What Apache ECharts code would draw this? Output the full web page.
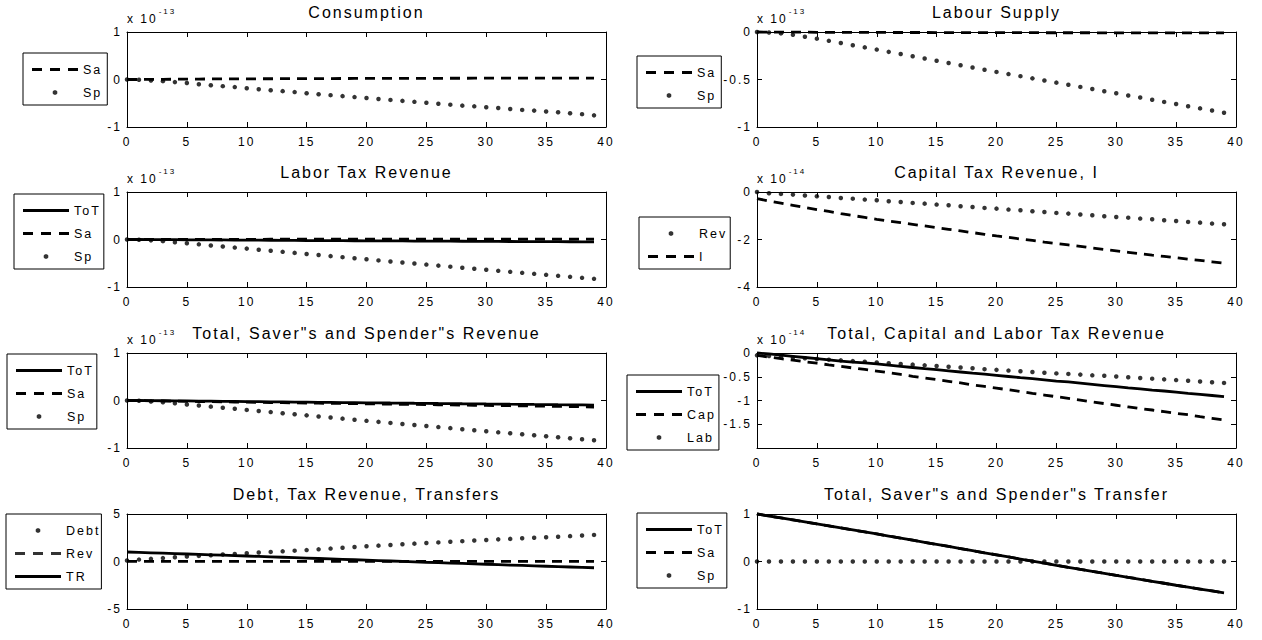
<!DOCTYPE html>
<html>
<head>
<meta charset="utf-8">
<script src="https://cdn.jsdelivr.net/npm/echarts@6.0.0/dist/echarts.min.js"></script>
<style>
  html, body { margin: 0; padding: 0; background: #fff; }
  #chart { width: 1262px; height: 640px; }
  /* MATLAB-like spaced glyphs */
  #chart text { letter-spacing: 2px; }
</style>
</head>
<body>
<div id="chart"></div>
<script>
  // periods 0..39 on the x axis
  const periods = Array.from({ length: 40 }, (_, i) => i)
  const xTicks = { min: 0, max: 40, step: 5 }

  // Consumption (x 1e-13)
  const consumptionSa = [0, 0, 0.002, 0.004, 0.006, 0.008, 0.01, 0.011, 0.012, 0.013, 0.014, 0.015, 0.016, 0.017, 0.018, 0.019, 0.02, 0.02, 0.021, 0.022, 0.022, 0.023, 0.023, 0.024, 0.024, 0.025, 0.025, 0.026, 0.026, 0.027, 0.027, 0.028, 0.028, 0.029, 0.029, 0.03, 0.03, 0.03, 0.031, 0.031]
  const consumptionSp = [0, -0.005, -0.02, -0.035, -0.055, -0.075, -0.1, -0.12, -0.14, -0.16, -0.185, -0.205, -0.225, -0.245, -0.265, -0.29, -0.31, -0.33, -0.35, -0.37, -0.39, -0.41, -0.43, -0.45, -0.47, -0.49, -0.51, -0.53, -0.55, -0.565, -0.585, -0.6, -0.62, -0.64, -0.655, -0.675, -0.69, -0.71, -0.73, -0.755]

  // Labour Supply (x 1e-13)
  const labourSa = [0, -0.001, -0.001, -0.002, -0.002, -0.003, -0.003, -0.003, -0.004, -0.004, -0.004, -0.005, -0.005, -0.005, -0.005, -0.006, -0.006, -0.006, -0.006, -0.007, -0.007, -0.007, -0.007, -0.007, -0.008, -0.008, -0.008, -0.008, -0.008, -0.009, -0.009, -0.009, -0.009, -0.009, -0.01, -0.01, -0.01, -0.01, -0.01, -0.01]
  const labourSp = [0, -0.005, -0.015, -0.03, -0.05, -0.07, -0.093, -0.116, -0.139, -0.162, -0.185, -0.209, -0.232, -0.256, -0.279, -0.303, -0.326, -0.35, -0.373, -0.397, -0.42, -0.443, -0.465, -0.488, -0.51, -0.533, -0.555, -0.578, -0.6, -0.623, -0.645, -0.668, -0.69, -0.713, -0.736, -0.758, -0.781, -0.804, -0.827, -0.85]

  // Labor Tax Revenue (x 1e-13)
  const labTaxToT = [0, 0, -0.001, -0.003, -0.004, -0.006, -0.007, -0.009, -0.01, -0.012, -0.013, -0.015, -0.016, -0.018, -0.019, -0.021, -0.022, -0.024, -0.025, -0.026, -0.028, -0.029, -0.03, -0.031, -0.033, -0.034, -0.035, -0.036, -0.037, -0.039, -0.04, -0.041, -0.042, -0.043, -0.044, -0.045, -0.046, -0.047, -0.048, -0.05]
  const labTaxSa = [0, 0.001, 0.001, 0.002, 0.002, 0.002, 0.003, 0.003, 0.003, 0.004, 0.004, 0.004, 0.005, 0.005, 0.005, 0.005, 0.006, 0.006, 0.006, 0.006, 0.007, 0.007, 0.007, 0.007, 0.007, 0.008, 0.008, 0.008, 0.008, 0.008, 0.009, 0.009, 0.009, 0.009, 0.009, 0.01, 0.01, 0.01, 0.01, 0.01]
  const labTaxSp = [0, -0.006, -0.018, -0.035, -0.057, -0.08, -0.102, -0.125, -0.147, -0.17, -0.192, -0.215, -0.237, -0.26, -0.282, -0.305, -0.327, -0.35, -0.372, -0.395, -0.417, -0.44, -0.462, -0.484, -0.506, -0.528, -0.55, -0.572, -0.594, -0.616, -0.638, -0.66, -0.681, -0.702, -0.723, -0.744, -0.765, -0.786, -0.807, -0.828]

  // Capital Tax Revenue, I (x 1e-14)
  const capitalRev = [0, -0.05, -0.08, -0.11, -0.15, -0.18, -0.21, -0.25, -0.28, -0.32, -0.35, -0.39, -0.42, -0.46, -0.49, -0.53, -0.56, -0.6, -0.63, -0.67, -0.7, -0.74, -0.77, -0.81, -0.84, -0.88, -0.91, -0.95, -0.98, -1.02, -1.05, -1.08, -1.12, -1.15, -1.19, -1.22, -1.26, -1.29, -1.33, -1.36]
  const capitalI = [-0.28, -0.38, -0.47, -0.56, -0.65, -0.74, -0.82, -0.91, -0.99, -1.07, -1.15, -1.22, -1.29, -1.36, -1.43, -1.5, -1.57, -1.64, -1.71, -1.78, -1.85, -1.91, -1.98, -2.04, -2.11, -2.17, -2.23, -2.29, -2.36, -2.42, -2.48, -2.54, -2.6, -2.66, -2.71, -2.77, -2.83, -2.88, -2.94, -3.0]

  // Total, Saver"s and Spender"s Revenue (x 1e-13)
  const revenueToT = [0, 0, -0.003, -0.005, -0.008, -0.01, -0.013, -0.015, -0.018, -0.02, -0.023, -0.025, -0.028, -0.03, -0.033, -0.035, -0.038, -0.04, -0.043, -0.045, -0.048, -0.05, -0.053, -0.055, -0.058, -0.06, -0.063, -0.065, -0.068, -0.07, -0.073, -0.075, -0.078, -0.08, -0.083, -0.085, -0.088, -0.09, -0.093, -0.098]
  const revenueSa = [0, -0.002, -0.006, -0.01, -0.014, -0.018, -0.021, -0.025, -0.028, -0.032, -0.035, -0.039, -0.042, -0.046, -0.049, -0.053, -0.056, -0.06, -0.063, -0.066, -0.07, -0.073, -0.076, -0.08, -0.083, -0.086, -0.09, -0.093, -0.096, -0.1, -0.103, -0.106, -0.11, -0.113, -0.117, -0.12, -0.124, -0.128, -0.132, -0.138]
  const revenueSp = [0, -0.006, -0.02, -0.038, -0.06, -0.083, -0.106, -0.129, -0.152, -0.175, -0.198, -0.221, -0.244, -0.267, -0.29, -0.313, -0.336, -0.359, -0.382, -0.405, -0.428, -0.45, -0.472, -0.494, -0.516, -0.538, -0.56, -0.582, -0.604, -0.626, -0.648, -0.67, -0.691, -0.712, -0.733, -0.754, -0.775, -0.796, -0.817, -0.838]

  // Total, Capital and Labor Tax Revenue (x 1e-14)
  const totalToT = [0, -0.02, -0.045, -0.07, -0.095, -0.12, -0.145, -0.17, -0.19, -0.21, -0.23, -0.255, -0.28, -0.305, -0.33, -0.35, -0.375, -0.4, -0.425, -0.445, -0.47, -0.495, -0.52, -0.54, -0.565, -0.59, -0.61, -0.635, -0.66, -0.685, -0.71, -0.735, -0.755, -0.78, -0.8, -0.825, -0.85, -0.87, -0.895, -0.92]
  const totalCap = [-0.05, -0.085, -0.12, -0.15, -0.185, -0.215, -0.25, -0.28, -0.315, -0.345, -0.38, -0.415, -0.45, -0.49, -0.525, -0.56, -0.595, -0.63, -0.67, -0.705, -0.74, -0.775, -0.81, -0.85, -0.885, -0.92, -0.955, -0.99, -1.03, -1.065, -1.1, -1.135, -1.17, -1.2, -1.235, -1.27, -1.3, -1.34, -1.375, -1.41]
  const totalLab = [-0.05, -0.065, -0.08, -0.095, -0.11, -0.125, -0.14, -0.155, -0.17, -0.185, -0.2, -0.215, -0.23, -0.245, -0.26, -0.275, -0.29, -0.305, -0.32, -0.34, -0.355, -0.37, -0.385, -0.4, -0.415, -0.43, -0.44, -0.455, -0.47, -0.48, -0.495, -0.51, -0.525, -0.54, -0.555, -0.57, -0.585, -0.6, -0.615, -0.63]

  // Debt, Tax Revenue, Transfers (levels)
  const debt = [0.1, 0.2, 0.28, 0.36, 0.44, 0.52, 0.59, 0.66, 0.73, 0.8, 0.87, 0.94, 1.01, 1.07, 1.14, 1.2, 1.28, 1.36, 1.44, 1.52, 1.6, 1.67, 1.74, 1.81, 1.88, 1.95, 2.01, 2.08, 2.14, 2.21, 2.27, 2.33, 2.38, 2.44, 2.5, 2.55, 2.61, 2.67, 2.73, 2.8]
  const debtRev = [0.02, 0.02, 0.02, 0.02, 0.02, 0.02, 0.02, 0.02, 0.02, 0.02, 0.02, 0.02, 0.02, 0.02, 0.02, 0.02, 0.02, 0.02, 0.02, 0.02, 0.02, 0.02, 0.02, 0.02, 0.02, 0.02, 0.02, 0.02, 0.02, 0.02, 0.02, 0.02, 0.02, 0.02, 0.02, 0.02, 0.02, 0.02, 0.02, 0.02]

  // Total, Saver"s and Spender"s Transfer
  const transferToT = [1.0, 0.958, 0.916, 0.874, 0.832, 0.79, 0.748, 0.706, 0.664, 0.622, 0.58, 0.536, 0.492, 0.448, 0.404, 0.36, 0.316, 0.272, 0.228, 0.184, 0.14, 0.096, 0.052, 0.008, -0.036, -0.08, -0.122, -0.164, -0.206, -0.248, -0.29, -0.332, -0.374, -0.416, -0.458, -0.5, -0.54, -0.58, -0.62, -0.66]
  const transferSa = transferToT
  const transferSp = [0, 0, 0, 0, 0, 0, 0, 0, 0, 0, 0, 0, 0, 0, 0, 0, 0, 0, 0, 0, 0, 0, 0, 0, 0, 0, 0, 0, 0, 0, 0, 0, 0, 0, 0, 0, 0, 0, 0, 0]

  const FONT = '"Liberation Sans", Arial, Helvetica, sans-serif'
  const COLS = [{ left: 127, width: 479 }, { left: 757, width: 479 }]
  const ROW_TOPS = [32, 192, 353, 514]
  const PLOT_H = 95

  // legend icons, drawn in a 46x12 box (corner points keep the box size)
  const ICONS = {
    solid: 'path://M0,0ZM46,12ZM0,4.6H46V7.4H0Z',
    dash: 'path://M0,0ZM46,12ZM0,4.6H10V7.4H0ZM18,4.6H28V7.4H18ZM36,4.6H46V7.4H36Z',
    dot: 'path://M0,0ZM46,12ZM22,3.7H24L25.3,5V7L24,8.3H22L20.7,7V5Z'
  }

  const panels = [
    { title: 'Consumption', col: 0, row: 0, y: [-1, 1, 1], exp: '-13', legend: [23, 53],
      lines: [['Sa', 'dash', consumptionSa], ['Sp', 'dot', consumptionSp]] },
    { title: 'Labour Supply', col: 1, row: 0, y: [-1, 0, 0.5], exp: '-13', legend: [637, 56],
      lines: [['Sa', 'dash', labourSa], ['Sp', 'dot', labourSp]] },
    { title: 'Labor Tax Revenue', col: 0, row: 1, y: [-1, 1, 1], exp: '-13', legend: [14, 194],
      lines: [['ToT', 'solid', labTaxToT], ['Sa', 'dash', labTaxSa], ['Sp', 'dot', labTaxSp]] },
    { title: 'Capital Tax Revenue, I', col: 1, row: 1, y: [-4, 0, 2], exp: '-14', legend: [639, 217],
      lines: [['Rev', 'dot', capitalRev], ['I', 'dash', capitalI]] },
    { title: 'Total, Saver"s and Spender"s Revenue', col: 0, row: 2, y: [-1, 1, 1], exp: '-13', legend: [7, 354],
      lines: [['ToT', 'solid', revenueToT], ['Sa', 'dash', revenueSa], ['Sp', 'dot', revenueSp]] },
    { title: 'Total, Capital and Labor Tax Revenue', col: 1, row: 2, y: [-2, 0, 0.5], exp: '-14', legend: [627, 375], hideMin: true,
      lines: [['ToT', 'solid', totalToT], ['Cap', 'dash', totalCap], ['Lab', 'dot', totalLab]] },
    { title: 'Debt, Tax Revenue, Transfers', col: 0, row: 3, y: [-5, 5, 5], exp: null, legend: [6, 514],
      lines: [['Debt', 'dot', debt], ['Rev', 'dash', debtRev], ['TR', 'solid', transferToT]] },
    { title: 'Total, Saver"s and Spender"s Transfer', col: 1, row: 3, y: [-1, 1, 1], exp: null, legend: [637, 513],
      lines: [['ToT', 'solid', transferToT], ['Sa', 'dash', transferSa], ['Sp', 'dot', transferSp]] }
  ]

  const black = '#000'
  const option = {
    animation: false,
    backgroundColor: '#fff',
    textStyle: { fontFamily: FONT, color: black },
    title: [], legend: [], grid: [], xAxis: [], yAxis: [], series: []
  }

  panels.forEach((p, i) => {
    const col = COLS[p.col]
    const top = ROW_TOPS[p.row]
    option.grid.push({ left: col.left, top: top, width: col.width, height: PLOT_H,
      containLabel: false, outerBoundsMode: 'none', show: false })

    option.title.push({
      text: p.title, left: col.left + col.width / 2, top: top - 28, textAlign: 'center', padding: 0,
      textStyle: { fontFamily: FONT, fontSize: 16, fontWeight: 'normal', color: black }
    })

    const tick = { show: true, inside: true, length: 5, lineStyle: { color: black, width: 1 } }
    const line = { show: true, onZero: false, lineStyle: { color: black, width: 1 } }
    const xBase = { type: 'value', gridIndex: i, min: xTicks.min, max: xTicks.max, interval: xTicks.step,
      axisLine: line, axisTick: tick, splitLine: { show: false } }
    option.xAxis.push(Object.assign({}, xBase, { position: 'bottom',
      axisLabel: { fontSize: 12, color: black, fontFamily: FONT, margin: 9, showMinLabel: true, showMaxLabel: true } }))
    option.xAxis.push(Object.assign({}, xBase, { position: 'top', axisLabel: { show: false } }))

    const yBase = { type: 'value', gridIndex: i, min: p.y[0], max: p.y[1], interval: p.y[2],
      axisLine: line, axisTick: tick, splitLine: { show: false } }
    const yMain = Object.assign({}, yBase, { position: 'left',
      axisLabel: { fontSize: 12, color: black, fontFamily: FONT, margin: 5, showMinLabel: true, showMaxLabel: true,
        formatter: v => (p.hideMin && v === p.y[0]) ? '' : String(v) } })
    if (p.exp) {
      // the "x 10^-13" scale factor above the axis
      Object.assign(yMain, {
        name: '{b|x 10}{s|' + p.exp + '}', nameLocation: 'end', nameGap: 1, nameMoveOverlap: false,
        nameTextStyle: { align: 'left', verticalAlign: 'bottom', color: black,
          rich: {
            b: { fontSize: 12, lineHeight: 24, fontFamily: FONT, color: black },
            s: { fontSize: 8, lineHeight: 6, verticalAlign: 'top', padding: [0, 0, 0, 9], fontFamily: FONT, color: black }
          } }
      })
    }
    option.yAxis.push(yMain)
    option.yAxis.push(Object.assign({}, yBase, { position: 'right', axisLabel: { show: false } }))

    p.lines.forEach(([name, style, values]) => {
      const data = periods.map(t => [t, values[t]])
      if (style === 'dot') {
        option.series.push({ name, type: 'scatter', xAxisIndex: 2 * i, yAxisIndex: 2 * i, data,
          symbol: 'circle', symbolSize: 4.5, itemStyle: { color: black }, silent: true, clip: false })
      } else {
        option.series.push({ name, type: 'line', xAxisIndex: 2 * i, yAxisIndex: 2 * i, data,
          symbol: 'none', showSymbol: false, clip: false, silent: true, itemStyle: { color: black },
          lineStyle: { color: black, width: 2.8, type: style === 'dash' ? [10, 7] : 'solid' } })
      }
    })

    option.legend.push({
      orient: 'vertical', left: p.legend[0], top: p.legend[1],
      padding: [10, 9, 6, 9], itemGap: 10, itemWidth: 46, itemHeight: 12,
      borderColor: black, borderWidth: 1, backgroundColor: '#fff', selectedMode: false,
      itemStyle: { color: black, borderWidth: 0 },
      textStyle: { fontFamily: FONT, fontSize: 12.5, color: black },
      data: p.lines.map(([name, style]) => ({ name, icon: ICONS[style] }))
    })
  })

  const chart = echarts.init(document.getElementById('chart'), null, { renderer: 'svg' })
  chart.setOption(option)
</script>
</body>
</html>
